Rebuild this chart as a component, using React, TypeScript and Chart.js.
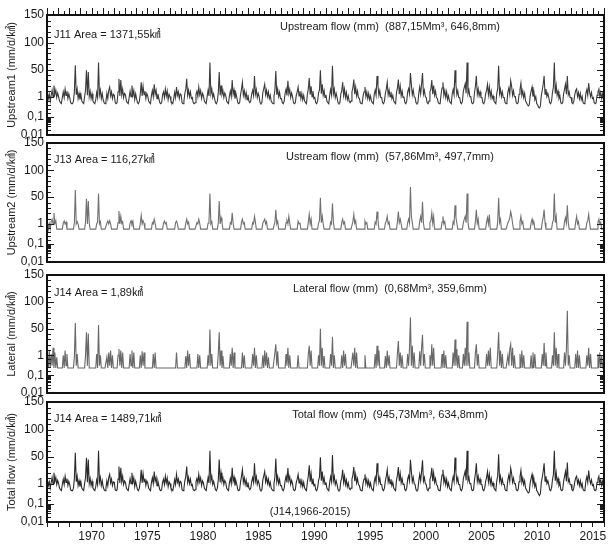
import React, { useEffect, useRef } from 'react';
import { Chart, registerables, Scale } from 'chart.js';

Chart.register(...registerables);

// ---------------- data ----------------
const START_YEAR = 1966;
const END_YEAR = 2016;
const X_LABEL_YEARS = [1970, 1975, 1980, 1985, 1990, 1995, 2000, 2005, 2010, 2015];
const Y_TICK_VALUES = [0.01, 0.1, 1, 50, 100, 150];
const Y_TICK_LABELS = ['0,01', '0,1', '1', '50', '100', '150'];

// monthly values (mm/d/km2), one row per year 1966..2015 (Jan..Dec)
const UPSTREAM1 = [
  1.8, 0.8, 1.4, 0.6, 1.2, 2.5, 1.0, 5.0, 1.4, 2.6, 0.9, 1.7,
  1.0, 0.6, 0.5, 0.45, 0.9, 2.0, 0.9, 3.0, 1.2, 2.2, 0.8, 1.5,
  0.9, 0.5, 0.45, 0.45, 0.6, 2.2, 56, 1.3, 3.0, 0.8, 1.6, 0.7,
  1.4, 0.6, 0.5, 0.45, 1.0, 2.5, 45, 1.2, 35, 1.0, 2.2, 0.8,
  1.5, 0.6, 0.5, 0.45, 0.7, 1.8, 0.9, 60, 1.3, 2.6, 0.8, 1.6,
  0.7, 0.5, 0.45, 0.6, 1.6, 0.8, 2.5, 4.0, 1.1, 2.0, 0.8, 1.4,
  1.2, 0.5, 0.45, 0.5, 2.0, 13, 1.1, 11, 1.3, 3.0, 0.9, 1.6,
  1.3, 0.6, 0.5, 0.45, 0.9, 2.2, 1.0, 5.0, 1.2, 2.4, 0.7, 1.5,
  0.8, 0.5, 0.45, 0.6, 1.5, 8.0, 1.1, 4.5, 1.3, 2.2, 0.8, 1.6,
  1.1, 0.6, 0.5, 0.45, 1.2, 2.4, 1.0, 6.0, 1.4, 2.5, 0.8, 1.5,
  0.8, 0.5, 0.45, 0.5, 1.3, 2.0, 0.9, 3.0, 1.1, 2.3, 0.7, 1.4,
  1.0, 0.6, 0.5, 0.45, 0.8, 1.9, 0.9, 4.0, 1.2, 2.0, 0.8, 1.5,
  1.3, 0.5, 0.45, 0.6, 1.6, 3.0, 13, 1.2, 2.6, 1.0, 2.0, 0.8,
  0.9, 0.5, 0.45, 0.5, 1.4, 2.2, 1.0, 4.0, 1.3, 2.4, 0.8, 1.6,
  1.1, 0.6, 0.5, 0.45, 1.0, 2.5, 1.1, 60, 1.5, 3.0, 0.9, 1.5,
  0.8, 0.5, 0.45, 0.6, 1.8, 35, 1.2, 5.0, 1.4, 2.4, 0.9, 1.7,
  1.2, 0.6, 0.5, 0.45, 1.1, 2.2, 1.0, 11, 1.4, 2.6, 0.8, 1.6,
  0.9, 0.5, 0.45, 0.5, 1.3, 3.0, 8.0, 1.2, 2.4, 0.9, 1.8, 0.7,
  1.3, 0.6, 0.5, 0.6, 1.5, 2.5, 1.2, 20, 1.4, 2.8, 0.9, 1.6,
  1.0, 0.5, 0.45, 0.5, 1.8, 3.2, 6.0, 1.3, 2.6, 1.0, 2.0, 0.8,
  1.2, 0.6, 0.5, 0.45, 1.0, 2.6, 40, 1.3, 3.0, 1.0, 1.9, 0.8,
  0.8, 0.5, 0.45, 0.6, 1.6, 3.0, 1.2, 10, 1.5, 2.8, 0.9, 1.7,
  1.0, 0.5, 0.45, 0.5, 1.2, 2.0, 4.0, 1.1, 2.2, 0.8, 1.6, 0.7,
  1.2, 0.6, 0.5, 0.45, 1.4, 3.2, 15, 1.3, 4.5, 1.0, 2.2, 0.8,
  0.9, 0.5, 0.45, 0.6, 1.7, 2.6, 45, 1.5, 6.0, 1.2, 2.4, 0.9,
  1.3, 0.6, 0.5, 0.45, 1.2, 2.8, 1.3, 55, 1.5, 3.0, 0.9, 1.6,
  0.9, 0.5, 0.45, 0.5, 1.5, 2.3, 8.0, 1.2, 3.0, 0.9, 1.8, 0.7,
  1.1, 0.6, 0.5, 0.6, 2.0, 3.5, 12, 1.4, 4.0, 1.1, 2.2, 0.9,
  0.8, 0.5, 0.45, 0.45, 1.1, 2.0, 4.0, 1.0, 2.0, 0.8, 1.6, 0.7,
  1.1, 0.6, 0.5, 0.45, 1.4, 2.6, 1.2, 20, 5.0, 1.2, 2.4, 0.9,
  0.9, 0.5, 0.45, 0.6, 1.6, 3.0, 8.0, 1.3, 2.6, 1.0, 2.0, 0.8,
  1.2, 0.6, 0.5, 0.45, 1.8, 3.5, 12, 1.4, 4.5, 1.1, 2.2, 0.9,
  1.0, 0.5, 0.45, 0.6, 2.0, 3.2, 1.5, 30, 6.0, 1.3, 2.6, 1.0,
  0.9, 0.5, 0.45, 0.5, 1.6, 4.0, 1.5, 6.0, 30, 1.4, 2.5, 1.0,
  0.9, 0.5, 0.45, 0.6, 1.9, 3.0, 11, 1.4, 5.0, 1.2, 2.2, 0.9,
  0.8, 0.5, 0.45, 0.45, 1.4, 3.5, 8.0, 1.2, 2.5, 0.9, 2.0, 0.7,
  1.1, 0.6, 0.5, 0.45, 1.5, 2.8, 1.3, 45, 5.5, 1.3, 2.4, 0.9,
  0.9, 0.5, 0.45, 0.6, 2.2, 3.8, 6.5, 1.6, 60, 1.5, 2.6, 1.0,
  1.0, 0.5, 0.45, 0.5, 1.8, 4.5, 20, 1.4, 3.0, 1.1, 2.0, 0.9,
  0.9, 0.5, 0.45, 0.6, 1.5, 2.5, 6.0, 1.3, 4.0, 1.0, 2.2, 0.8,
  1.1, 0.6, 0.5, 0.45, 1.6, 3.2, 55, 1.5, 3.0, 1.0, 2.0, 0.9,
  0.9, 0.5, 0.45, 0.6, 1.9, 3.5, 1.4, 10, 4.5, 1.2, 2.3, 1.0,
  1.0, 0.5, 0.45, 0.5, 1.4, 2.8, 7.0, 1.2, 2.4, 0.9, 1.6, 0.6,
  0.5, 0.4, 0.35, 0.4, 1.1, 2.2, 4.0, 1.0, 2.0, 0.7, 1.0, 0.45,
  0.4, 0.3, 0.28, 0.35, 1.2, 2.6, 6.0, 20, 1.4, 3.0, 1.0, 1.6,
  0.9, 0.5, 0.45, 0.6, 1.8, 4.0, 60, 1.5, 5.0, 1.2, 2.2, 0.8,
  1.1, 0.5, 0.45, 0.5, 1.5, 3.0, 6.0, 1.4, 20, 1.3, 2.0, 0.9,
  0.9, 0.5, 0.45, 0.6, 1.3, 2.4, 3.0, 1.0, 1.8, 0.8, 1.6, 0.7,
  1.0, 0.5, 0.45, 0.5, 1.6, 2.8, 1.2, 7.0, 2.0, 1.0, 1.8, 0.8,
  0.9, 0.5, 0.45, 0.5, 1.2, 2.0, 3.0, 1.0, 1.8, 0.8, 1.5, 0.7,
];

const UPSTREAM2 = [
  1.3, 0.55, 1.0, 0.55, 1.4, 2.0, 1.0, 5.0, 1.1, 1.6, 0.55, 0.55,
  0.55, 0.55, 0.55, 0.55, 0.55, 1.1, 1.5, 1.0, 1.3, 0.55, 0.55, 0.55,
  0.55, 0.55, 0.55, 0.55, 0.55, 1.2, 60, 1.0, 1.4, 1.0, 0.55, 0.55,
  0.55, 0.55, 0.55, 0.55, 0.55, 1.3, 40, 1.0, 28, 1.1, 0.55, 0.55,
  0.55, 0.55, 0.55, 0.55, 0.55, 1.0, 1.3, 55, 1.0, 1.4, 0.55, 0.55,
  0.55, 0.55, 0.55, 0.55, 1.1, 1.5, 1.0, 1.6, 1.0, 0.55, 0.55, 0.55,
  0.55, 0.55, 0.55, 0.55, 1.2, 6.5, 1.0, 3.0, 1.1, 1.4, 0.55, 0.55,
  0.55, 0.55, 0.55, 0.55, 0.55, 1.1, 1.6, 1.0, 1.5, 0.55, 0.55, 0.55,
  0.55, 0.55, 0.55, 0.55, 1.1, 3.5, 1.0, 1.6, 1.1, 0.55, 0.55, 0.55,
  0.55, 0.55, 0.55, 0.55, 0.55, 1.2, 1.0, 2.0, 1.1, 0.55, 0.55, 0.55,
  0.55, 0.55, 0.55, 0.55, 0.55, 1.1, 1.5, 1.0, 1.2, 0.55, 0.55, 0.55,
  0.55, 0.55, 0.55, 0.55, 0.55, 0.55, 1.2, 1.5, 1.0, 0.55, 0.55, 0.55,
  0.55, 0.55, 0.55, 0.55, 0.55, 1.1, 2.0, 1.0, 1.3, 0.55, 0.55, 0.55,
  0.55, 0.55, 0.55, 0.55, 0.55, 1.2, 1.0, 2.0, 1.1, 0.55, 0.55, 0.55,
  0.55, 0.55, 0.55, 0.55, 0.55, 1.1, 1.5, 55, 1.0, 1.4, 0.55, 0.55,
  0.55, 0.55, 0.55, 0.55, 1.1, 28, 1.0, 2.5, 1.2, 0.55, 0.55, 0.55,
  0.55, 0.55, 0.55, 0.55, 0.55, 1.2, 1.0, 5.0, 1.1, 0.55, 0.55, 0.55,
  0.55, 0.55, 0.55, 0.55, 0.55, 1.3, 2.0, 1.0, 1.2, 0.55, 0.55, 0.55,
  0.55, 0.55, 0.55, 0.55, 0.55, 1.2, 1.0, 3.0, 1.3, 0.55, 0.55, 0.55,
  0.55, 0.55, 0.55, 0.55, 1.1, 1.5, 2.0, 1.0, 1.4, 0.55, 0.55, 0.55,
  0.55, 0.55, 0.55, 0.55, 0.55, 1.3, 8.0, 1.0, 1.5, 0.55, 0.55, 0.55,
  0.55, 0.55, 0.55, 0.55, 0.55, 1.2, 1.6, 1.0, 3.0, 1.1, 0.55, 0.55,
  0.55, 0.55, 0.55, 0.55, 0.55, 0.55, 1.5, 1.0, 1.2, 0.55, 0.55, 0.55,
  0.55, 0.55, 0.55, 0.55, 0.55, 1.3, 4.0, 1.0, 2.0, 0.55, 0.55, 0.55,
  0.55, 0.55, 0.55, 0.55, 1.1, 1.6, 45, 1.2, 3.0, 1.0, 0.55, 0.55,
  0.55, 0.55, 0.55, 0.55, 0.55, 1.3, 1.0, 20, 1.4, 0.55, 0.55, 0.55,
  0.55, 0.55, 0.55, 0.55, 0.55, 1.2, 2.0, 1.0, 1.3, 0.55, 0.55, 0.55,
  0.55, 0.55, 0.55, 0.55, 0.55, 1.4, 4.0, 1.1, 1.6, 0.55, 0.55, 0.55,
  0.55, 0.55, 0.55, 0.55, 0.55, 0.55, 1.5, 1.0, 1.2, 0.55, 0.55, 0.55,
  0.55, 0.55, 0.55, 0.55, 0.55, 1.3, 1.0, 6.0, 2.0, 0.55, 0.55, 0.55,
  0.55, 0.55, 0.55, 0.55, 1.1, 1.5, 3.0, 1.0, 1.3, 0.55, 0.55, 0.55,
  0.55, 0.55, 0.55, 0.55, 0.55, 1.4, 6.0, 1.2, 2.0, 1.0, 0.55, 0.55,
  0.55, 0.55, 0.55, 0.55, 1.2, 2.0, 1.1, 65, 3.0, 1.2, 0.55, 0.55,
  0.55, 0.55, 0.55, 0.55, 0.55, 1.5, 3.0, 1.2, 25, 1.1, 0.55, 0.55,
  0.55, 0.55, 0.55, 0.55, 1.2, 1.6, 5.0, 1.1, 3.0, 0.55, 0.55, 0.55,
  0.55, 0.55, 0.55, 0.55, 0.55, 1.3, 3.0, 1.0, 1.4, 0.55, 0.55, 0.55,
  0.55, 0.55, 0.55, 0.55, 0.55, 1.4, 1.0, 15, 2.5, 1.1, 0.55, 0.55,
  0.55, 0.55, 0.55, 0.55, 1.2, 2.0, 3.0, 1.2, 55, 1.3, 0.55, 0.55,
  0.55, 0.55, 0.55, 0.55, 0.55, 1.5, 8.0, 1.1, 2.0, 0.55, 0.55, 0.55,
  0.55, 0.55, 0.55, 0.55, 0.55, 1.3, 2.5, 1.0, 4.0, 0.55, 0.55, 0.55,
  0.55, 0.55, 0.55, 0.55, 0.55, 1.4, 45, 1.2, 2.0, 0.55, 0.55, 0.55,
  0.55, 0.55, 0.55, 0.55, 1.2, 1.6, 2.5, 6.0, 3.0, 1.1, 0.55, 0.55,
  0.55, 0.55, 0.55, 0.55, 0.55, 1.3, 3.0, 1.0, 1.4, 0.55, 0.55, 0.55,
  0.55, 0.55, 0.55, 0.55, 0.55, 1.2, 2.0, 1.0, 1.3, 0.55, 0.55, 0.55,
  0.55, 0.55, 0.55, 0.55, 0.55, 1.3, 2.5, 8.0, 1.2, 0.55, 0.55, 0.55,
  0.55, 0.55, 0.55, 0.55, 1.2, 1.8, 55, 1.2, 3.0, 0.55, 0.55, 0.55,
  0.55, 0.55, 0.55, 0.55, 0.55, 1.4, 2.5, 1.1, 15, 1.2, 0.55, 0.55,
  0.55, 0.55, 0.55, 0.55, 0.55, 1.3, 3.0, 1.0, 1.4, 0.55, 0.55, 0.55,
  0.55, 0.55, 0.55, 0.55, 0.55, 1.2, 1.6, 4.0, 1.1, 0.55, 0.55, 0.55,
  0.55, 0.55, 0.55, 0.55, 0.55, 1.3, 2.0, 1.0, 1.3, 0.55, 0.55, 0.55,
];

const LATERAL = [
  1.5, 0.23, 2.0, 0.23, 1.2, 0.3, 3.0, 0.23, 1.5, 0.23, 0.8, 0.23,
  0.23, 0.23, 0.23, 0.23, 0.23, 1.0, 0.23, 2.0, 0.3, 1.2, 0.23, 0.23,
  0.23, 0.23, 0.23, 0.23, 0.23, 0.9, 58, 0.3, 1.2, 0.23, 0.23, 0.23,
  0.23, 0.23, 0.23, 0.23, 0.23, 1.0, 30, 0.3, 25, 0.23, 0.23, 0.23,
  0.23, 0.23, 0.23, 0.23, 0.23, 1.2, 0.23, 55, 0.3, 1.0, 0.23, 0.23,
  0.23, 0.23, 0.23, 0.23, 0.8, 0.23, 1.5, 0.3, 2.0, 0.23, 1.0, 0.23,
  0.23, 0.23, 0.23, 0.23, 1.0, 2.5, 0.3, 2.0, 0.23, 1.5, 0.23, 0.23,
  0.23, 0.23, 0.23, 0.23, 0.23, 1.2, 0.3, 2.0, 0.23, 1.5, 0.23, 0.23,
  0.23, 0.23, 0.23, 0.23, 1.0, 0.23, 1.8, 0.3, 1.5, 0.23, 0.23, 0.23,
  0.23, 0.23, 0.23, 0.23, 0.23, 0.23, 1.2, 0.23, 1.5, 0.23, 0.23, 0.23,
  0.23, 0.23, 0.23, 0.23, 0.23, 0.23, 0.23, 0.23, 0.23, 0.23, 0.23, 0.23,
  0.23, 0.23, 0.23, 0.23, 0.23, 0.23, 0.23, 1.5, 0.23, 0.23, 0.23, 0.23,
  0.23, 0.23, 0.23, 0.23, 0.23, 0.9, 0.23, 2.0, 0.3, 1.2, 0.23, 0.23,
  0.23, 0.23, 0.23, 0.23, 0.23, 0.23, 1.2, 0.23, 1.0, 0.23, 0.23, 0.23,
  0.23, 0.23, 0.23, 0.23, 0.23, 1.0, 0.3, 45, 0.3, 1.2, 0.23, 0.23,
  0.23, 0.23, 0.23, 0.23, 1.2, 30, 0.3, 2.0, 0.23, 0.9, 0.23, 0.23,
  0.23, 0.23, 0.23, 0.23, 0.23, 1.2, 0.3, 3.0, 0.23, 1.5, 0.23, 0.23,
  0.23, 0.23, 0.23, 0.23, 0.23, 0.23, 1.5, 0.23, 1.0, 0.23, 0.23, 0.23,
  0.23, 0.23, 0.23, 0.23, 0.23, 1.2, 0.3, 3.0, 0.23, 1.0, 0.23, 0.23,
  0.23, 0.23, 0.23, 0.23, 1.0, 0.23, 2.0, 0.3, 1.5, 0.23, 0.8, 0.23,
  0.23, 0.23, 0.23, 0.23, 0.23, 1.5, 5.0, 0.3, 1.8, 0.23, 0.23, 0.23,
  0.23, 0.23, 0.23, 0.23, 0.23, 1.2, 0.3, 3.0, 0.23, 1.0, 0.23, 0.23,
  0.23, 0.23, 0.23, 0.23, 0.23, 0.23, 1.0, 0.23, 0.23, 0.23, 0.23, 0.23,
  0.23, 0.23, 0.23, 0.23, 0.23, 1.2, 4.0, 0.3, 2.0, 0.23, 0.23, 0.23,
  0.23, 0.23, 0.23, 0.23, 1.0, 0.3, 50, 0.3, 3.0, 0.23, 0.9, 0.23,
  0.23, 0.23, 0.23, 0.23, 0.23, 1.2, 0.3, 15, 0.23, 1.0, 0.23, 0.23,
  0.23, 0.23, 0.23, 0.23, 0.23, 1.0, 0.23, 2.0, 0.3, 1.2, 0.23, 0.23,
  0.23, 0.23, 0.23, 0.23, 0.23, 1.5, 0.3, 3.0, 0.23, 1.5, 0.23, 0.23,
  0.23, 0.23, 0.23, 0.23, 0.23, 0.23, 1.0, 0.23, 0.23, 0.23, 0.23, 0.23,
  0.23, 0.23, 0.23, 0.23, 0.23, 1.2, 0.23, 4.0, 0.3, 2.0, 0.23, 0.23,
  0.23, 0.23, 0.23, 0.23, 0.9, 0.23, 2.0, 0.3, 1.0, 0.23, 0.23, 0.23,
  0.23, 0.23, 0.23, 0.23, 0.23, 1.5, 8.0, 0.3, 1.5, 0.23, 1.0, 0.23,
  0.23, 0.23, 0.23, 0.23, 1.2, 0.3, 3.0, 67, 0.3, 4.0, 0.23, 1.5,
  0.23, 0.23, 0.23, 0.23, 0.23, 1.8, 0.3, 3.0, 20, 0.3, 1.2, 0.23,
  0.23, 0.23, 0.23, 0.23, 1.0, 0.3, 5.0, 0.3, 3.0, 0.23, 0.23, 0.23,
  0.23, 0.23, 0.23, 0.23, 0.23, 1.2, 0.23, 2.0, 0.23, 1.0, 0.23, 0.23,
  0.23, 0.23, 0.23, 0.23, 0.23, 1.5, 0.3, 10, 0.3, 2.5, 0.23, 1.0,
  0.23, 0.23, 0.23, 0.23, 1.2, 0.3, 3.0, 0.3, 60, 0.3, 1.5, 0.23,
  0.23, 0.23, 0.23, 0.23, 0.23, 1.5, 5.0, 0.3, 1.2, 0.23, 0.23, 0.23,
  0.23, 0.23, 0.23, 0.23, 0.23, 1.2, 0.3, 2.0, 0.3, 3.0, 0.23, 0.23,
  0.23, 0.23, 0.23, 0.23, 0.23, 1.5, 30, 0.3, 2.0, 0.23, 1.2, 0.23,
  0.23, 0.23, 0.23, 0.23, 1.0, 0.3, 2.5, 5.0, 0.3, 3.0, 0.23, 1.0,
  0.23, 0.23, 0.23, 0.23, 0.23, 1.2, 0.23, 2.0, 0.23, 1.0, 0.23, 0.23,
  0.23, 0.23, 0.23, 0.23, 0.23, 1.0, 0.23, 1.5, 0.23, 1.2, 0.23, 0.23,
  0.23, 0.23, 0.23, 0.23, 0.23, 1.2, 0.3, 6.0, 0.3, 1.5, 0.23, 0.23,
  0.23, 0.23, 0.23, 0.23, 1.0, 0.3, 30, 0.3, 3.0, 0.23, 1.2, 0.23,
  0.23, 0.23, 0.23, 0.23, 0.23, 1.5, 0.3, 2.5, 80, 0.3, 1.0, 0.23,
  0.23, 0.23, 0.23, 0.23, 0.23, 1.2, 0.23, 2.0, 0.23, 1.0, 0.23, 0.23,
  0.23, 0.23, 0.23, 0.23, 0.23, 1.0, 0.3, 3.0, 0.23, 1.2, 0.23, 0.23,
  0.23, 0.23, 0.23, 0.23, 0.23, 1.2, 0.23, 1.5, 0.23, 1.0, 0.23, 0.23,
];

const TOTAL = [
  1.7, 0.8, 1.3, 0.6, 1.2, 2.4, 1.0, 4.8, 1.4, 2.5, 0.9, 1.6,
  1.0, 0.6, 0.5, 0.45, 0.9, 1.9, 0.9, 2.9, 1.2, 2.1, 0.8, 1.4,
  0.9, 0.5, 0.45, 0.45, 0.6, 2.1, 55, 1.3, 2.9, 0.8, 1.5, 0.7,
  1.3, 0.6, 0.5, 0.45, 1.0, 2.4, 42, 1.2, 33, 1.0, 2.1, 0.8,
  1.4, 0.6, 0.5, 0.45, 0.7, 1.7, 0.9, 58, 1.3, 2.5, 0.8, 1.5,
  0.7, 0.5, 0.45, 0.6, 1.5, 0.8, 2.4, 3.8, 1.1, 1.9, 0.8, 1.3,
  1.2, 0.5, 0.45, 0.5, 1.9, 12, 1.1, 10, 1.3, 2.9, 0.9, 1.5,
  1.2, 0.6, 0.5, 0.45, 0.9, 2.1, 1.0, 4.8, 1.2, 2.3, 0.7, 1.4,
  0.8, 0.5, 0.45, 0.6, 1.4, 7.5, 1.1, 4.3, 1.3, 2.1, 0.8, 1.5,
  1.1, 0.6, 0.5, 0.45, 1.2, 2.3, 1.0, 5.8, 1.4, 2.4, 0.8, 1.4,
  0.8, 0.5, 0.45, 0.5, 1.2, 1.9, 0.9, 2.9, 1.1, 2.2, 0.7, 1.3,
  1.0, 0.6, 0.5, 0.45, 0.8, 1.8, 0.9, 3.8, 1.2, 1.9, 0.8, 1.4,
  1.2, 0.5, 0.45, 0.6, 1.5, 2.9, 12, 1.2, 2.5, 1.0, 1.9, 0.8,
  0.9, 0.5, 0.45, 0.5, 1.3, 2.1, 1.0, 3.8, 1.3, 2.3, 0.8, 1.5,
  1.1, 0.6, 0.5, 0.45, 1.0, 2.4, 1.1, 58, 1.5, 2.9, 0.9, 1.4,
  0.8, 0.5, 0.45, 0.6, 1.7, 33, 1.2, 4.8, 1.4, 2.3, 0.9, 1.6,
  1.2, 0.6, 0.5, 0.45, 1.1, 2.1, 1.0, 10, 1.4, 2.5, 0.8, 1.5,
  0.9, 0.5, 0.45, 0.5, 1.3, 2.9, 7.5, 1.2, 2.3, 0.9, 1.7, 0.7,
  1.2, 0.6, 0.5, 0.6, 1.4, 2.4, 1.2, 19, 1.4, 2.7, 0.9, 1.5,
  1.0, 0.5, 0.45, 0.5, 1.7, 3.1, 5.8, 1.3, 2.5, 1.0, 1.9, 0.8,
  1.2, 0.6, 0.5, 0.45, 1.0, 2.5, 38, 1.3, 2.9, 1.0, 1.8, 0.8,
  0.8, 0.5, 0.45, 0.6, 1.5, 2.9, 1.2, 9.5, 1.5, 2.7, 0.9, 1.6,
  1.0, 0.5, 0.45, 0.5, 1.2, 1.9, 3.8, 1.1, 2.1, 0.8, 1.5, 0.7,
  1.2, 0.6, 0.5, 0.45, 1.3, 3.1, 14, 1.3, 4.3, 1.0, 2.1, 0.8,
  0.9, 0.5, 0.45, 0.6, 1.6, 2.5, 45, 1.5, 5.8, 1.2, 2.3, 0.9,
  1.2, 0.6, 0.5, 0.45, 1.2, 2.7, 1.3, 52, 1.5, 2.9, 0.9, 1.5,
  0.9, 0.5, 0.45, 0.5, 1.4, 2.2, 7.5, 1.2, 2.9, 0.9, 1.7, 0.7,
  1.1, 0.6, 0.5, 0.6, 1.9, 3.4, 11, 1.4, 3.8, 1.1, 2.1, 0.9,
  0.8, 0.5, 0.45, 0.45, 1.1, 1.9, 3.8, 1.0, 1.9, 0.8, 1.5, 0.7,
  1.1, 0.6, 0.5, 0.45, 1.3, 2.5, 1.2, 19, 4.8, 1.2, 2.3, 0.9,
  0.9, 0.5, 0.45, 0.6, 1.5, 2.9, 7.5, 1.3, 2.5, 1.0, 1.9, 0.8,
  1.2, 0.6, 0.5, 0.45, 1.7, 3.4, 11, 1.4, 4.3, 1.1, 2.1, 0.9,
  1.0, 0.5, 0.45, 0.6, 1.9, 3.1, 1.5, 32, 5.8, 1.3, 2.5, 1.0,
  0.9, 0.5, 0.45, 0.5, 1.5, 3.8, 1.5, 5.8, 29, 1.4, 2.4, 1.0,
  0.9, 0.5, 0.45, 0.6, 1.8, 2.9, 10, 1.4, 4.8, 1.2, 2.1, 0.9,
  0.8, 0.5, 0.45, 0.45, 1.3, 3.4, 7.5, 1.2, 2.4, 0.9, 1.9, 0.7,
  1.1, 0.6, 0.5, 0.45, 1.4, 2.7, 1.3, 43, 5.3, 1.3, 2.3, 0.9,
  0.9, 0.5, 0.45, 0.6, 2.1, 3.6, 6.2, 1.6, 58, 1.5, 2.5, 1.0,
  1.0, 0.5, 0.45, 0.5, 1.7, 4.3, 19, 1.4, 2.9, 1.1, 1.9, 0.9,
  0.9, 0.5, 0.45, 0.6, 1.4, 2.4, 5.8, 1.3, 3.8, 1.0, 2.1, 0.8,
  1.1, 0.6, 0.5, 0.45, 1.5, 3.1, 53, 1.5, 2.9, 1.0, 1.9, 0.9,
  0.9, 0.5, 0.45, 0.6, 1.8, 3.4, 1.4, 9.5, 4.3, 1.2, 2.2, 1.0,
  1.0, 0.5, 0.45, 0.5, 1.3, 2.7, 6.7, 1.2, 2.3, 0.9, 1.5, 0.6,
  0.5, 0.4, 0.35, 0.4, 1.1, 2.1, 3.8, 1.0, 1.9, 0.7, 1.0, 0.45,
  0.4, 0.3, 0.26, 0.33, 1.2, 2.5, 5.8, 19, 1.4, 2.9, 1.0, 1.5,
  0.9, 0.5, 0.45, 0.6, 1.7, 3.8, 58, 1.5, 4.8, 1.2, 2.1, 0.8,
  1.1, 0.5, 0.45, 0.5, 1.4, 2.9, 5.8, 1.4, 21, 1.3, 1.9, 0.9,
  0.9, 0.5, 0.45, 0.6, 1.3, 2.3, 2.9, 1.0, 1.7, 0.8, 1.5, 0.7,
  1.0, 0.5, 0.45, 0.5, 1.5, 2.7, 1.2, 6.7, 1.9, 1.0, 1.7, 0.8,
  0.9, 0.5, 0.45, 0.5, 1.2, 1.9, 2.9, 1.0, 1.7, 0.8, 1.4, 0.7,
];

// ---------------- scale ----------------
// vertical position (fraction of plot height) at which each y tick label sits
const Y_TICK_POSITIONS = [0, 0.15, 0.32, 0.545, 0.77, 1];

function valueToDecimal(v: number): number {
  const vals = Y_TICK_VALUES;
  const x = Math.min(Math.max(v, vals[0]), vals[vals.length - 1]);
  let i = 0;
  while (i < vals.length - 2 && x > vals[i + 1]) i++;
  const t = (Math.log(x) - Math.log(vals[i])) / (Math.log(vals[i + 1]) - Math.log(vals[i]));
  return Y_TICK_POSITIONS[i] + t * (Y_TICK_POSITIONS[i + 1] - Y_TICK_POSITIONS[i]);
}

function decimalToValue(d: number): number {
  const p = Y_TICK_POSITIONS;
  let i = 0;
  while (i < p.length - 2 && d > p[i + 1]) i++;
  const t = (d - p[i]) / (p[i + 1] - p[i]);
  const a = Math.log(Y_TICK_VALUES[i]);
  const b = Math.log(Y_TICK_VALUES[i + 1]);
  return Math.exp(a + t * (b - a));
}

class BrokenLogScale extends (Scale as any) {
  static id = 'brokenLog';
  static defaults = {};
  determineDataLimits() {
    this.min = Y_TICK_VALUES[0];
    this.max = Y_TICK_VALUES[Y_TICK_VALUES.length - 1];
  }
  buildTicks() {
    return Y_TICK_VALUES.map((value) => ({ value }));
  }
  getLabelForValue(value: number) {
    return String(value);
  }
  getPixelForValue(value: number) {
    return this.getPixelForDecimal(valueToDecimal(value));
  }
  getPixelForTick(index: number) {
    const t = this.ticks[index];
    return t ? this.getPixelForValue(t.value) : NaN;
  }
  getValueForPixel(pixel: number) {
    return decimalToValue(this.getDecimalForPixel(pixel));
  }
}
Chart.register(BrokenLogScale as any);

// ---------------- layout ----------------
const W = 610;
const H = 545;
const FONT_FAMILY = "'Liberation Sans', 'Noto Sans CJK KR', sans-serif";
const INK = '#1a1a1a';

const PANELS = [
  {
    top: 15, bottom: 135, data: UPSTREAM1, color: '#3a3a3a',
    yTitle: 'Upstream1 (mm/d/㎢)', area: 'J11 Area = 1371,55㎢', areaDy: 20,
    title: 'Upstream flow (mm)  (887,15Mm³, 646,8mm)', titleDy: 12, topTicks: true,
  },
  {
    top: 143, bottom: 262, data: UPSTREAM2, color: '#707070',
    yTitle: 'Upstream2 (mm/d/㎢)', area: 'J13 Area = 116,27㎢', areaDy: 17,
    title: 'Ustream flow (mm)  (57,86Mm³, 497,7mm)', titleDy: 14, topTicks: false,
  },
  {
    top: 275, bottom: 393, data: LATERAL, color: '#686868',
    yTitle: 'Lateral (mm/d/㎢)', area: 'J14 Area = 1,89㎢', areaDy: 18,
    title: 'Lateral flow (mm)  (0,68Mm³, 359,6mm)', titleDy: 14, topTicks: false,
  },
  {
    top: 402, bottom: 522, data: TOTAL, color: '#2a2a2a',
    yTitle: 'Total flow (mm/d/㎢)', area: 'J14 Area = 1489,71㎢', areaDy: 17,
    title: 'Total flow (mm)  (945,73Mm³, 634,8mm)', titleDy: 13, topTicks: false,
    footer: '(J14,1966-2015)',
  },
];

function toPoints(values: number[]) {
  return values.map((v, i) => ({ x: START_YEAR + (i + 0.5) / 12, y: v }));
}

function makeDecorPlugin(panel: any) {
  return {
    id: 'panelDecor',
    afterDatasetsDraw(chart: any) {
      const { ctx, chartArea } = chart;
      const { left, right, top, bottom } = chartArea;
      const h = bottom - top;
      const xScale = chart.scales.x;
      ctx.save();
      ctx.strokeStyle = INK;
      ctx.lineWidth = 1;
      const marks: { d: number; len: number }[] = [];
      for (let i = 0; i < Y_TICK_POSITIONS.length; i++) {
        marks.push({ d: Y_TICK_POSITIONS[i], len: 7 });
      }
      for (let k = 2; k <= 9; k++) {
        marks.push({ d: valueToDecimal(Y_TICK_VALUES[0] * k), len: 4 });
      }
      for (let i = 1; i < Y_TICK_POSITIONS.length - 1; i++) {
        for (let s = 1; s < 5; s++) {
          const d = Y_TICK_POSITIONS[i] + (s / 5) * (Y_TICK_POSITIONS[i + 1] - Y_TICK_POSITIONS[i]);
          marks.push({ d, len: 4 });
        }
      }
      ctx.beginPath();
      for (const m of marks) {
        const y = Math.round(bottom - m.d * h) + 0.5;
        ctx.moveTo(left, y);
        ctx.lineTo(left + m.len, y);
        ctx.moveTo(right, y);
        ctx.lineTo(right - m.len, y);
      }
      ctx.stroke();

      if (panel.topTicks) {
        ctx.beginPath();
        for (let yr = START_YEAR; yr <= END_YEAR; yr += 0.5) {
          const x = Math.round(xScale.getPixelForValue(yr)) + 0.5;
          const len = Number.isInteger(yr) ? 6 : 3;
          ctx.moveTo(x, top - 1);
          ctx.lineTo(x, top - 1 - len);
        }
        ctx.stroke();
      }

      ctx.lineWidth = 2;
      ctx.strokeStyle = '#111';
      ctx.strokeRect(left, top, right - left, h);

      ctx.fillStyle = INK;
      ctx.font = `11px ${FONT_FAMILY}`;
      ctx.textBaseline = 'middle';
      ctx.textAlign = 'left';
      ctx.fillText(panel.area, left + 7, top + panel.areaDy);
      ctx.textAlign = 'center';
      ctx.fillText(panel.title, 390, top + panel.titleDy);
      if (panel.footer) {
        ctx.fillText(panel.footer, 310, bottom - 10);
      }
      ctx.restore();
    },
  };
}

function makeConfig(panel: any, isLast: boolean): any {
  return {
    type: 'line',
    data: {
      datasets: [
        {
          data: toPoints(panel.data),
          borderColor: panel.color,
          borderWidth: 1.1,
          pointRadius: 0,
          tension: 0,
          fill: false,
        },
      ],
    },
    options: {
      animation: false,
      responsive: false,
      events: [],
      layout: {
        padding: { top: panel.top, bottom: isLast ? 0 : H - panel.bottom, left: 0, right: W - 604 },
      },
      plugins: { legend: { display: false }, tooltip: { enabled: false } },
      scales: {
        x: {
          type: 'linear',
          min: START_YEAR,
          max: END_YEAR,
          display: isLast,
          afterBuildTicks: (scale: any) => {
            const ticks = [];
            for (let y = START_YEAR; y <= END_YEAR; y++) ticks.push({ value: y });
            scale.ticks = ticks;
          },
          afterFit: (scale: any) => {
            if (isLast) scale.height = H - panel.bottom;
            scale.paddingLeft = 0;
            scale.paddingRight = 0;
          },
          ticks: {
            autoSkip: false,
            maxRotation: 0,
            minRotation: 0,
            padding: 2,
            color: INK,
            font: { family: FONT_FAMILY, size: 12 },
            callback: (v: number) => (X_LABEL_YEARS.includes(v) ? String(v) : ''),
          },
          grid: { drawOnChartArea: false, drawTicks: true, tickLength: 5, color: INK, lineWidth: 1 },
          border: { display: false },
        },
        y: {
          type: 'brokenLog',
          position: 'left',
          afterFit: (scale: any) => {
            scale.width = 47;
            scale.paddingTop = 0;
            scale.paddingBottom = 0;
          },
          ticks: {
            autoSkip: false,
            padding: 3,
            color: INK,
            font: { family: FONT_FAMILY, size: 12 },
            callback: (v: number) => {
              const i = Y_TICK_VALUES.indexOf(v);
              return i >= 0 ? Y_TICK_LABELS[i] : '';
            },
          },
          grid: { display: false, drawTicks: false },
          border: { display: false },
          title: {
            display: true,
            text: panel.yTitle,
            color: INK,
            font: { family: FONT_FAMILY, size: 11 },
            padding: { top: 5, bottom: 0 },
          },
        },
      },
    },
    plugins: [makeDecorPlugin(panel)],
  };
}

export default function App() {
  const refs = useRef<(HTMLCanvasElement | null)[]>([]);

  useEffect(() => {
    const charts = PANELS.map((panel, i) => {
      const canvas = refs.current[i];
      return canvas ? new Chart(canvas, makeConfig(panel, i === PANELS.length - 1)) : null;
    });
    return () => {
      charts.forEach((c) => c && c.destroy());
    };
  }, []);

  return (
    <div style={{ position: 'absolute', left: 0, top: 0, width: W, height: H, background: '#fff' }}>
      {PANELS.map((p, i) => (
        <canvas
          key={i}
          ref={(el) => {
            refs.current[i] = el;
          }}
          width={W}
          height={H}
          style={{ position: 'absolute', left: 0, top: 0, width: W, height: H }}
        />
      ))}
    </div>
  );
}
